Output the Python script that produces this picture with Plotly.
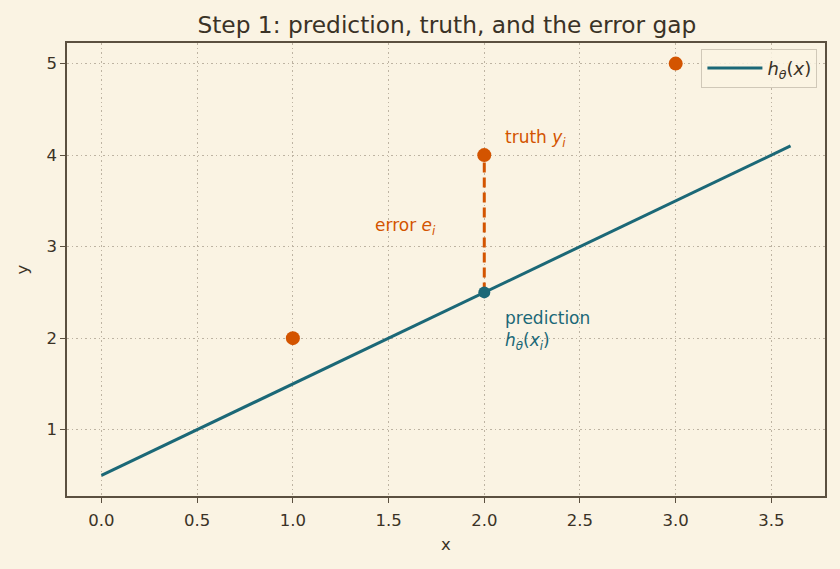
import plotly.graph_objects as go

# data
line_x = [0.0, 3.6]
line_y = [0.5, 4.1]
truth_x = [1.0, 2.0, 3.0]
truth_y = [2.0, 4.0, 5.0]
pred_x = [2.0]
pred_y = [2.5]
err_x = [2.0, 2.0]
err_y = [2.5, 4.0]
x_ticks = [0.0, 0.5, 1.0, 1.5, 2.0, 2.5, 3.0, 3.5]
y_ticks = [1, 2, 3, 4, 5]

BG = "#faf3e3"
TEAL = "#1b6877"
ORANGE = "#d35400"
TEXT = "#3a3226"
FRAME = "#5b5040"
GRID = "#bdb3a2"

fig = go.Figure()
fig.add_trace(go.Scatter(x=line_x, y=line_y, mode="lines",
                         line=dict(color=TEAL, width=3),
                         name="<i>h</i><sub><i>θ</i></sub>(<i>x</i>)"))
fig.add_trace(go.Scatter(x=err_x, y=err_y, mode="lines",
                         line=dict(color=ORANGE, width=3, dash="10px,5px"),
                         showlegend=False))
fig.add_trace(go.Scatter(x=truth_x, y=truth_y, mode="markers",
                         marker=dict(color=ORANGE, size=14),
                         showlegend=False))
fig.add_trace(go.Scatter(x=pred_x, y=pred_y, mode="markers",
                         marker=dict(color=TEAL, size=12),
                         showlegend=False))

fs = 17
fig.add_annotation(x=2.1, y=4.18, text="truth <i>y</i><sub><i>i</i></sub>",
                   showarrow=False, xanchor="left", yanchor="middle",
                   font=dict(color=ORANGE, size=fs))
fig.add_annotation(x=1.42, y=3.22, text="error <i>e</i><sub><i>i</i></sub>",
                   showarrow=False, xanchor="left", yanchor="middle",
                   font=dict(color=ORANGE, size=fs))
fig.add_annotation(x=2.1, y=2.22, text="prediction",
                   showarrow=False, xanchor="left", yanchor="middle",
                   font=dict(color=TEAL, size=fs))
fig.add_annotation(x=2.1, y=1.96, text="<i>h</i><sub><i>θ</i></sub>(<i>x</i><sub><i>i</i></sub>)",
                   showarrow=False, xanchor="left", yanchor="middle",
                   font=dict(color=TEAL, size=fs))

axis_common = dict(showline=True, linecolor=FRAME, linewidth=1.6, mirror=True,
                   ticks="outside", ticklen=5, tickcolor=FRAME, tickwidth=1.3,
                   showgrid=True, gridcolor=GRID, griddash="1.5px,3px", gridwidth=1.2,
                   zeroline=False, tickfont=dict(size=16.5, color=TEXT),
                   title_font=dict(size=16.5, color=TEXT))

fig.update_xaxes(range=[-0.18, 3.78], tickvals=x_ticks,
                 ticktext=[f"{v:.1f}" for v in x_ticks], title_text="x",
                 title_standoff=10, ticklabelstandoff=3, **axis_common)
fig.update_yaxes(range=[0.275, 5.225], tickvals=y_ticks,
                 ticktext=[str(v) for v in y_ticks], title_text="y",
                 title_standoff=14, **axis_common)

fig.update_layout(
    width=840, height=569,
    paper_bgcolor=BG, plot_bgcolor=BG,
    font=dict(family="DejaVu Sans", color=TEXT),
    margin=dict(l=67, r=15, t=43, b=73),
    title=dict(text="Step 1: prediction, truth, and the error gap",
               x=0.532, xanchor="center", y=0.957, yanchor="middle",
               font=dict(size=23.3, color=TEXT)),
    legend=dict(x=0.99, y=0.987, xanchor="right", yanchor="top",
                bgcolor="rgba(250,243,227,0.85)", bordercolor="#d0c8b8",
                borderwidth=1, font=dict(size=18, color=TEXT),
                itemwidth=55),
    showlegend=True,
)

fig.write_html("out.html")
